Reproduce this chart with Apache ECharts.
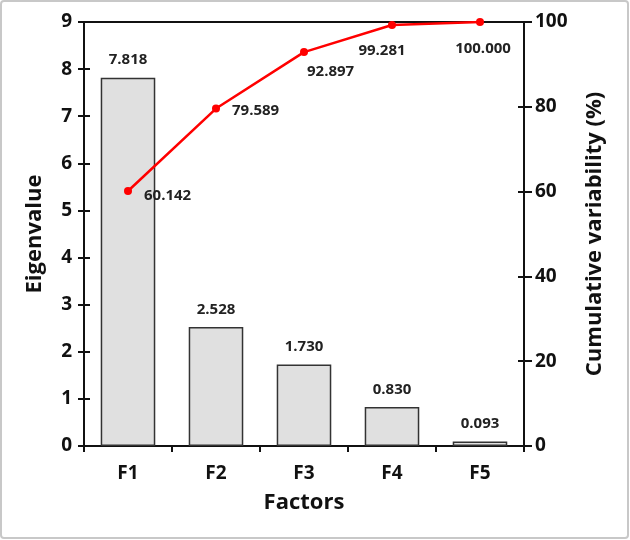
<!DOCTYPE html>
<html>
<head>
<meta charset="utf-8">
<script src="https://cdn.jsdelivr.net/npm/echarts@6/dist/echarts.min.js"></script>
<style>
  html, body { margin: 0; padding: 0; background: #fff; }
  #main { width: 630px; height: 540px; }
</style>
</head>
<body>
<div id="main"></div>
<script>
// data
var factors = ['F1', 'F2', 'F3', 'F4', 'F5'];
var eigenvalues = [7.818, 2.528, 1.730, 0.830, 0.093];
var cumulative = [60.142, 79.589, 92.897, 99.281, 100.000];
var linePos = ['right', 'right', 'right', 'bottom', 'bottom'];
var lineOffset = [[4, 5], [4, 2], [-9, 20], [-10, 6], [3, 7]];

var chart = echarts.init(document.getElementById('main'));
var font = '"Open Sans", "DejaVu Sans", sans-serif';

// 共用的刻度样式
var tickStyle = { color: '#111', width: 2 };

chart.setOption({
  textStyle: { fontFamily: font },
  graphic: [{
    type: 'rect',
    shape: { x: 1, y: 1, width: 627, height: 537, r: 3 },
    style: { fill: 'none', stroke: '#c8c8c8', lineWidth: 2 },
    z: -1
  }],
  grid: {
    left: 84, right: 106, top: 22, bottom: 94,
    show: true, borderColor: '#111', borderWidth: 2, backgroundColor: 'transparent'
  },
  xAxis: {
    type: 'category',
    data: factors,
    name: 'Factors',
    nameLocation: 'middle',
    nameGap: 46,
    nameTextStyle: { fontSize: 22, fontWeight: 'bold', color: '#111' },
    axisLine: { lineStyle: { color: '#111', width: 2 } },
    axisTick: { show: true, length: 6, lineStyle: tickStyle },
    axisLabel: { margin: 18, fontSize: 19, fontWeight: 'bold', color: '#111' }
  },
  yAxis: [{
    type: 'value',
    min: 0, max: 9, interval: 1,
    name: 'Eigenvalue',
    nameLocation: 'middle',
    nameGap: 38,
    nameTextStyle: { fontSize: 22, fontWeight: 'bold', color: '#111' },
    axisLine: { show: true, lineStyle: { color: '#111', width: 2 } },
    axisTick: { show: true, length: 6, lineStyle: tickStyle },
    axisLabel: { margin: 12, fontSize: 19, fontWeight: 'bold', color: '#111' },
    splitLine: { show: false }
  }, {
    type: 'value',
    min: 0, max: 100, interval: 20,
    position: 'right',
    name: 'Cumulative variability (%)',
    nameLocation: 'middle',
    nameGap: 60,
    nameRotate: 90,
    nameTextStyle: { fontSize: 22, fontWeight: 'bold', color: '#111' },
    axisLine: { show: true, lineStyle: { color: '#111', width: 2 } },
    axisTick: { show: true, length: 8, lineStyle: tickStyle },
    axisLabel: { margin: 11, fontSize: 19, fontWeight: 'bold', color: '#111' },
    splitLine: { show: false }
  }, {
    // inner half of the crossing ticks, left
    type: 'value', min: 0, max: 9, interval: 1, position: 'left',
    axisLine: { show: false },
    axisTick: { show: true, inside: true, length: 6, lineStyle: tickStyle },
    axisLabel: { show: false }, splitLine: { show: false }
  }, {
    // inner half of the crossing ticks, right
    type: 'value', min: 0, max: 100, interval: 20, position: 'right',
    axisLine: { show: false },
    axisTick: { show: true, inside: true, length: 6, lineStyle: tickStyle },
    axisLabel: { show: false }, splitLine: { show: false }
  }],
  series: [{
    type: 'bar',
    data: eigenvalues,
    barWidth: '62%',
    itemStyle: { color: '#e0e0e0', borderColor: '#333', borderWidth: 1.5 },
    label: {
      show: true, position: 'top', distance: 10,
      fontSize: 15, fontWeight: 'bold', color: '#222',
      formatter: function (p) { return p.value.toFixed(3); }
    }
  }, {
    type: 'line',
    yAxisIndex: 1,
    data: cumulative.map(function (v, i) {
      return {
        value: v,
        label: { position: linePos[i], offset: lineOffset[i] }
      };
    }),
    symbol: 'circle',
    symbolSize: 8,
    lineStyle: { color: '#f00', width: 2.5 },
    itemStyle: { color: '#f00' },
    label: {
      show: true, fontSize: 15, fontWeight: 'bold', color: '#222', distance: 8,
      formatter: function (p) { return p.value.toFixed(3); }
    },
    z: 5
  }]
});
</script>
</body>
</html>
